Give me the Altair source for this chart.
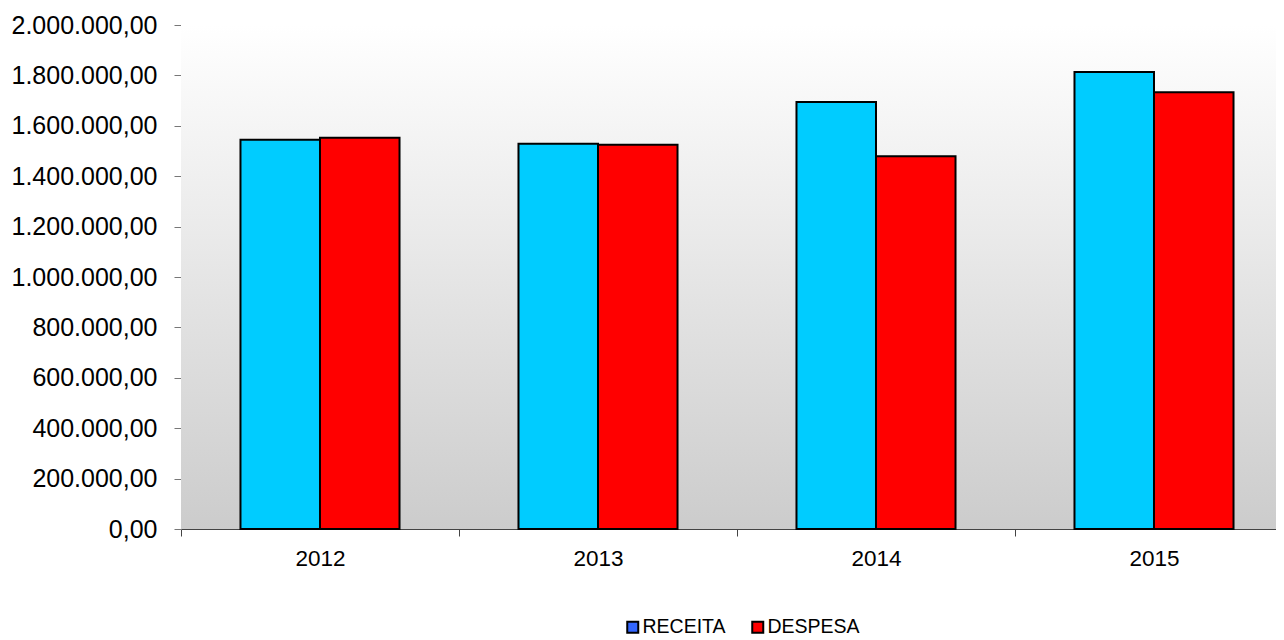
import altair as alt
import pandas as pd

years = ["2012", "2013", "2014", "2015"]
series = ["RECEITA", "DESPESA"]
receita = [1545000, 1529000, 1694000, 1813000]
despesa = [1553000, 1525000, 1479000, 1733000]
y_ticks = [0, 200000, 400000, 600000, 800000, 1000000, 1200000, 1400000, 1600000, 1800000, 2000000]

bar_colors = ["#00CCFF", "#FF0000"]
legend_colors = ["#3366FF", "#FF0000"]

rows = []
for i, yr in enumerate(years):
    rows.append({"ano": yr, "serie": "RECEITA", "valor": receita[i]})
    rows.append({"ano": yr, "serie": "DESPESA", "valor": despesa[i]})
df = pd.DataFrame(rows)

W = 1095
H = 504
STEP = 278

x_enc = alt.X(
    "ano:N",
    sort=years,
    title=None,
    scale=alt.Scale(range=[0, STEP * 4], paddingInner=0, paddingOuter=0),
    axis=alt.Axis(
        labelAngle=0, labelFontSize=22.5, labelColor="#000000", labelFont="Liberation Sans",
        tickBand="extent", tickSize=7, tickColor="#444444", domainColor="#444444",
        labelPadding=11, ticks=True,
    ),
)
y_enc = alt.Y(
    "valor:Q",
    title=None,
    scale=alt.Scale(domain=[0, 2000000], nice=False),
    axis=alt.Axis(
        values=y_ticks, grid=False, labelFontSize=25, labelColor="#000000",
        labelFont="Liberation Sans", tickSize=7, tickColor="#777777",
        domainColor="#777777", labelPadding=17,
        labelExpr="replace(replace(replace(format(datum.value, ',.2f'), regexp(',', 'g'), '#'), regexp('[.]', 'g'), ','), regexp('#', 'g'), '.')",
    ),
)
xoff = alt.XOffset("serie:N", sort=series, scale=alt.Scale(paddingInner=0, paddingOuter=0.748))

bg = alt.Chart(pd.DataFrame({"k": [0]})).mark_rect(
    color=alt.LinearGradient(
        gradient="linear", x1=0, x2=0, y1=0, y2=1,
        stops=[alt.GradientStop(color="#FFFFFF", offset=0), alt.GradientStop(color="#CCCCCC", offset=1)],
    )
).encode(x=alt.value(0), x2=alt.value(W), y=alt.value(0), y2=alt.value(H))

legend_bars = alt.Chart(df).mark_bar().encode(
    x=x_enc, xOffset=xoff, y=y_enc,
    color=alt.Color(
        "serie:N", sort=series,
        scale=alt.Scale(domain=series, range=legend_colors),
        legend=alt.Legend(
            title=None, orient="none", direction="horizontal", legendX=442, legendY=592,
            labelFontSize=19.5, labelFont="Liberation Sans", labelColor="#000000",
            symbolType="square", symbolSize=121, symbolStrokeColor="#000000",
            symbolStrokeWidth=2, labelOffset=0, columnPadding=22,
        ),
    ),
)

bars = alt.Chart(df).mark_bar(stroke="#000000", strokeWidth=2).encode(
    x=x_enc, xOffset=xoff, y=y_enc,
    fill=alt.condition("datum.serie == 'RECEITA'", alt.value(bar_colors[0]), alt.value(bar_colors[1])),
)

chart = alt.layer(bg, legend_bars, bars).properties(
    width=W, height=H,
    autosize=alt.AutoSizeParams(type="none"),
    padding={"left": 173, "top": 17, "right": 0, "bottom": 119},
    background="#FFFFFF",
).configure_view(stroke=None)

chart.save("out.html", embed_options={"renderer": "svg", "actions": False})
